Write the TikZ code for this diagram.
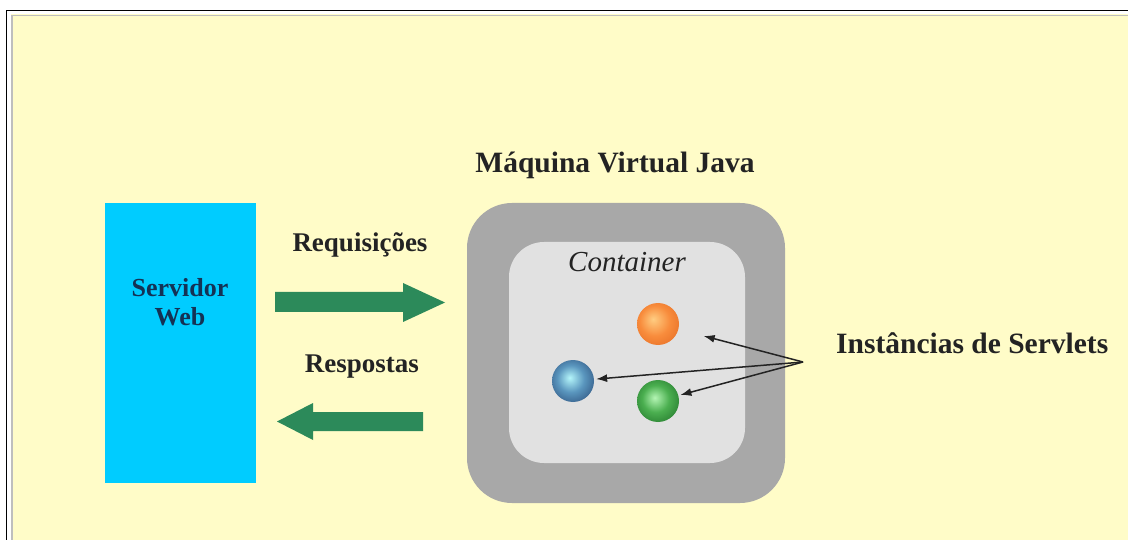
\documentclass[tikz,border=0pt]{standalone}
\usepackage{fontspec}
\setmainfont{Liberation Serif}
\usetikzlibrary{arrows.meta}
\definecolor{bgyellow}{RGB}{255,252,200}
\definecolor{webblue}{RGB}{0,204,255}
\definecolor{webtext}{RGB}{20,50,85}
\definecolor{arrgreen}{RGB}{44,138,90}
\definecolor{jvmgray}{RGB}{168,168,168}
\definecolor{contgray}{RGB}{225,225,225}
\definecolor{txtdark}{RGB}{35,35,35}
\definecolor{edgegray}{RGB}{190,190,190}
\definecolor{orA}{RGB}{255,205,130}
\definecolor{orB}{RGB}{248,140,60}
\definecolor{orC}{RGB}{225,100,30}
\definecolor{orD}{RGB}{245,150,90}
\definecolor{blA}{RGB}{180,245,250}
\definecolor{blB}{RGB}{90,150,190}
\definecolor{blC}{RGB}{35,65,110}
\definecolor{blD}{RGB}{70,105,145}
\definecolor{grA}{RGB}{180,245,180}
\definecolor{grB}{RGB}{75,175,80}
\definecolor{grC}{RGB}{25,105,35}
\definecolor{grD}{RGB}{60,145,70}
\pgfdeclareradialshading{orangeball}{\pgfpoint{-6bp}{6bp}}{color(0bp)=(orA); color(18bp)=(orB); color(40bp)=(orC); color(50bp)=(orD)}
\pgfdeclareradialshading{blueball}{\pgfpoint{-4bp}{4bp}}{color(0bp)=(blA); color(16bp)=(blB); color(38bp)=(blC); color(50bp)=(blD)}
\pgfdeclareradialshading{greenball}{\pgfpoint{-4bp}{4bp}}{color(0bp)=(grA); color(16bp)=(grB); color(38bp)=(grC); color(50bp)=(grD)}
\tikzset{
  label/.style={inner sep=0pt, text=txtdark, font=\fontsize{27}{31}\selectfont\bfseries},
  biglabel/.style={inner sep=0pt, text=txtdark, font=\fontsize{29.5}{34}\selectfont\bfseries},
  servlet/.style={circle, minimum size=42pt, inner sep=0pt},
  flowarrow/.style={fill=arrgreen},
  pointer/.style={draw=txtdark, line width=1.5pt, -{Latex[length=11pt,width=8pt]}, shorten >=2pt}
}
\begin{document}
\begin{tikzpicture}[x=1pt,y=-1pt]
\useasboundingbox (0,0) rectangle (1128,540);
\fill[white] (0,0) rectangle (1128,540);
\fill[bgyellow] (11,14.5) rectangle (1128,540);
\draw[edgegray, line width=1.2pt] (12,540) -- (12,15.5) -- (1128,15.5);
\draw[black, line width=1.6pt] (6.5,540) -- (6.5,10.5) -- (1128,10.5);
% web server
\node[fill=webblue, minimum width=151pt, minimum height=280pt, inner sep=0pt] (web) at (180,343) {};
\node[inner sep=0pt, anchor=north, align=center, text=webtext, font=\fontsize{26}{29}\selectfont\bfseries] (webtxt) at (180,278.5) {Servidor\\Web};
% JVM
\node[fill=jvmgray, rounded corners=45pt, minimum width=318pt, minimum height=300pt, inner sep=0pt] (jvm) at (626,353) {};
\node[fill=contgray, rounded corners=35pt, minimum width=236pt, minimum height=221pt, inner sep=0pt] (cont) at (627,352.5) {};
\node[biglabel, anchor=base] (jvmtxt) at (615,173) {Máquina Virtual Java};
\node[inner sep=0pt, text=txtdark, anchor=base, font=\fontsize{29}{33}\selectfont\itshape] (conttxt) at (627,272) {Container};
% arrows
\fill[flowarrow] (275,292) -- (403,292) -- (403,283) -- (445,302.5) -- (403,322) -- (403,312) -- (275,312) -- cycle;
\fill[flowarrow] (423,412) -- (313,412) -- (313,403) -- (277,421.5) -- (313,440) -- (313,431) -- (423,431) -- cycle;
\node[label, anchor=base] (req) at (360,252) {Requisições};
\node[label, anchor=base] (resp) at (362,372) {Respostas};
% servlets
\node[servlet, shading=orangeball] (s1) at (658,324) {};
\node[servlet, shading=blueball] (s2) at (573,381) {};
\node[servlet, shading=greenball] (s3) at (658,401) {};
\node[biglabel, anchor=base west] (inst) at (836,353) {Instâncias de Servlets};
\coordinate (conv) at (803,362);
\draw[pointer, shorten >=26pt] (conv) -- (s1);
\draw[pointer] (conv) -- (s2);
\draw[pointer] (conv) -- (s3);
\end{tikzpicture}
\end{document}
